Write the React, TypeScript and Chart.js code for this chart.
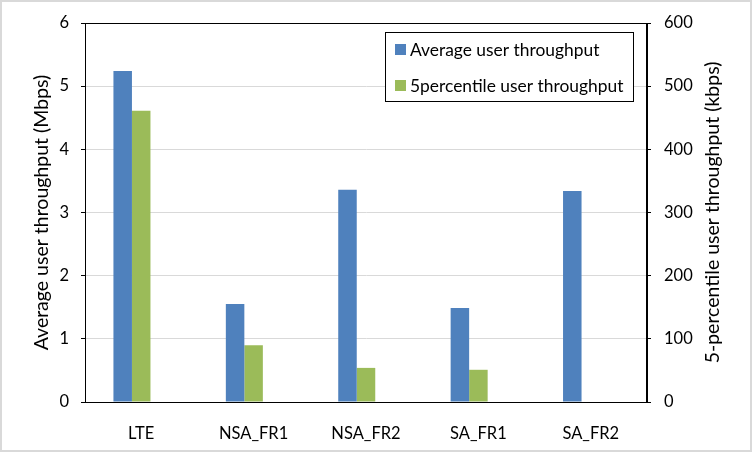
import React, { useEffect, useRef } from "react";
import { Chart, registerables } from "chart.js";

Chart.register(...registerables);

const categories = ["LTE", "NSA_FR1", "NSA_FR2", "SA_FR1", "SA_FR2"];
const avgThroughputMbps = [5.24, 1.55, 3.36, 1.49, 3.34];
const pct5ThroughputKbps = [461, 90, 54, 51, null];
const avgLabel = "Average user throughput";
const pctLabel = "5percentile user throughput";
const leftTitle = "Average user throughput (Mbps)";
const rightTitle = "5-percentile user throughput (kbps)";

const BLUE = "#4f81bd";
const GREEN = "#9bbb59";
const FONT = "Lato, 'Open Sans', sans-serif";

const framePlugin = {
  id: "frame",
  beforeDraw(chart: any) {
    const { ctx, width, height } = chart;
    ctx.save();
    ctx.fillStyle = "#ffffff";
    ctx.fillRect(0, 0, width, height);
    ctx.strokeStyle = "#d9d9d9";
    ctx.lineWidth = 2;
    ctx.strokeRect(1, 1, width - 2, height - 2);
    ctx.restore();
  },
  afterDraw(chart: any) {
    const { ctx, chartArea } = chart;
    const { left, top, right, bottom } = chartArea;
    ctx.save();
    ctx.strokeStyle = "#000000";
    ctx.lineWidth = 1;
    ctx.strokeRect(Math.round(left) + 0.5, Math.round(top) + 0.5, Math.round(right - left) - 1, Math.round(bottom - top));

    // axis titles (both read bottom-to-top)
    const cy = (top + bottom) / 2;
    ctx.fillStyle = "#000000";
    ctx.font = `19.5px ${FONT}`;
    ctx.textAlign = "center";
    ctx.textBaseline = "middle";
    [
      { text: leftTitle, x: 42 },
      { text: rightTitle, x: 713 },
    ].forEach((t) => {
      ctx.save();
      ctx.translate(t.x, cy);
      ctx.rotate(-Math.PI / 2);
      ctx.fillText(t.text, 0, 0);
      ctx.restore();
    });

    // legend box
    const bx = 385.5, by = 32.5, bw = 248, bh = 69;
    ctx.fillStyle = "#ffffff";
    ctx.fillRect(bx, by, bw, bh);
    ctx.strokeRect(bx, by, bw, bh);
    ctx.font = `17.4px ${FONT}`;
    ctx.textBaseline = "middle";
    ctx.textAlign = "left";
    const items = [
      { label: avgLabel, color: BLUE },
      { label: pctLabel, color: GREEN },
    ];
    items.forEach((it, i) => {
      const ly = 49 + i * 36;
      ctx.fillStyle = it.color;
      ctx.fillRect(395, ly - 5, 11, 11);
      ctx.fillStyle = "#000000";
      ctx.fillText(it.label, 410, ly + 1);
    });
    ctx.restore();
  },
};

export default function App() {
  const ref = useRef<HTMLCanvasElement>(null);
  useEffect(() => {
    document.body.style.margin = "0";
    const chart = new Chart(ref.current!, {
      type: "bar",
      data: {
        labels: categories,
        datasets: [
          { label: avgLabel, data: avgThroughputMbps, backgroundColor: BLUE, yAxisID: "y" },
          { label: pctLabel, data: pct5ThroughputKbps, backgroundColor: GREEN, yAxisID: "y1" },
          { label: "", data: [], backgroundColor: "rgba(0,0,0,0)", yAxisID: "y" },
        ],
      },
      options: {
        animation: false,
        responsive: false,
        maintainAspectRatio: false,
        devicePixelRatio: 1,
        layout: { padding: { top: 23, left: 0, right: 0, bottom: 0 } },
        datasets: { bar: { categoryPercentage: 0.494, barPercentage: 1 } },
        plugins: { legend: { display: false }, tooltip: { enabled: false } },
        scales: {
          x: {
            grid: { display: false },
            border: { display: true, color: "#000" },
            ticks: { color: "#000", font: { family: FONT, size: 16.5 }, padding: 14, maxRotation: 0 },
            afterFit: (s: any) => { s.height = 50; },
          },
          y: {
            position: "left",
            min: 0,
            max: 6,
            ticks: { stepSize: 1, color: "#000", font: { family: FONT, size: 16.5 }, padding: 12 },
            grid: { color: "#d9d9d9", tickColor: "#000", tickLength: 4 },
            border: { display: true, color: "#000" },
            afterFit: (s: any) => { s.width = 85; },
          },
          y1: {
            position: "right",
            min: 0,
            max: 600,
            ticks: { stepSize: 100, color: "#000", font: { family: FONT, size: 16.5 }, padding: 13 },
            grid: { drawOnChartArea: false, tickColor: "#000", tickLength: 4 },
            border: { display: true, color: "#000" },
            afterFit: (s: any) => { s.width = 105; },
          },
        },
      },
      plugins: [framePlugin],
    });
    return () => chart.destroy();
  }, []);
  return (
    <div style={{ width: 752, height: 452 }}>
      <canvas ref={ref} width={752} height={452} style={{ display: "block" }} />
    </div>
  );
}
